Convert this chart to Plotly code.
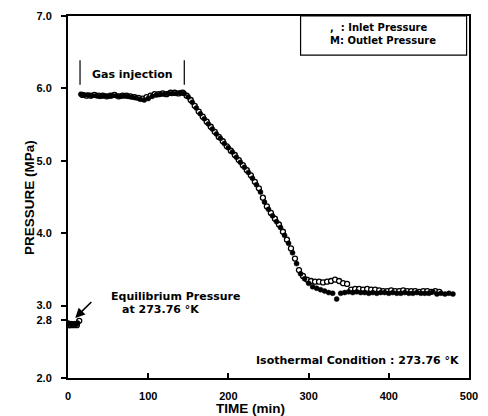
import plotly.graph_objects as go

# Inlet pressure (filled circles): time in min, pressure in MPa
inlet_time = [0, 2, 4, 6, 8, 10, 12,
              16, 20, 25, 30, 35, 40, 45, 50, 55, 60, 65, 70, 75, 80, 85, 90, 95, 100,
              105, 110, 115, 120, 125, 130, 135, 140, 145,
              150, 155, 160, 165, 170, 175, 180, 185, 190, 195, 200, 205, 210, 215, 220,
              225, 230, 235, 240, 245, 250, 255, 260, 265, 270, 275, 280, 285, 290, 295,
              300, 305, 310, 315, 320, 325, 330, 335, 340, 345, 350, 355, 360, 365, 370,
              375, 380, 385, 390, 395, 400, 405, 410, 415, 420, 425, 430, 435, 440, 445,
              450, 455, 460, 465, 470, 475, 480]
inlet_pressure = [2.76, 2.75, 2.75, 2.74, 2.75, 2.74, 2.76,
                  5.92, 5.91, 5.91, 5.90, 5.90, 5.89, 5.90, 5.89, 5.90, 5.90, 5.89, 5.90, 5.89,
                  5.88, 5.87, 5.85, 5.84, 5.86,
                  5.89, 5.91, 5.92, 5.92, 5.93, 5.93, 5.93, 5.94, 5.93,
                  5.88, 5.81, 5.73, 5.65, 5.58, 5.51, 5.44, 5.37, 5.31, 5.24, 5.18, 5.12,
                  5.05, 4.98, 4.91, 4.84, 4.76, 4.67, 4.57, 4.43, 4.33, 4.24, 4.16, 4.08,
                  3.97, 3.86, 3.73, 3.58, 3.44, 3.37, 3.31, 3.26, 3.24, 3.22, 3.20, 3.18,
                  3.17, 3.09, 3.17, 3.18, 3.19, 3.18, 3.19, 3.18, 3.18, 3.17, 3.18, 3.17,
                  3.18, 3.18, 3.17, 3.18, 3.17, 3.17, 3.18, 3.17, 3.17, 3.18, 3.17, 3.17,
                  3.17, 3.19, 3.16, 3.17, 3.16, 3.17, 3.16]

# Outlet pressure (open circles)
outlet_time = [1, 3, 5, 7, 9, 11, 14,
               18, 23, 28, 33, 38, 43, 48, 53, 58, 63, 68, 73, 78, 83, 88, 93, 98,
               103, 108, 113, 118, 123, 128, 133, 138, 143,
               148, 153, 158, 163, 168, 173, 178, 183, 188, 193, 198, 203, 208, 213, 218,
               223, 228, 233, 238, 243, 248, 253, 258, 263, 268, 273, 278, 283, 288, 293,
               298, 303, 308, 313, 318, 323, 328, 333, 338, 343, 348,
               353, 358, 363, 368, 373, 378, 383, 388, 393, 398, 403, 408, 413, 418,
               423, 428, 433, 438, 443, 448, 453, 458, 463]
outlet_pressure = [2.73, 2.73, 2.74, 2.73, 2.74, 2.73, 2.79,
                   5.91, 5.90, 5.90, 5.91, 5.90, 5.90, 5.89, 5.90, 5.91, 5.89, 5.90, 5.90,
                   5.89, 5.88, 5.87, 5.86, 5.88,
                   5.90, 5.92, 5.92, 5.93, 5.92, 5.94, 5.94, 5.93, 5.94,
                   5.90, 5.84, 5.76, 5.68, 5.61, 5.54, 5.47, 5.40, 5.33, 5.27, 5.20, 5.14,
                   5.08, 5.01, 4.94, 4.87, 4.80, 4.71, 4.62, 4.49, 4.37, 4.28, 4.20, 4.12,
                   4.02, 3.91, 3.79, 3.65, 3.49, 3.41, 3.36, 3.34, 3.33, 3.33, 3.32, 3.33,
                   3.34, 3.36, 3.34, 3.31, 3.30,
                   3.22, 3.23, 3.23, 3.22, 3.23, 3.22, 3.22, 3.21, 3.20, 3.20, 3.21, 3.20,
                   3.20, 3.21, 3.20, 3.20, 3.20, 3.19, 3.20, 3.20, 3.19, 3.20, 3.19]

y_ticks = [2.0, 2.8, 3.0, 4.0, 5.0, 6.0, 7.0]
x_ticks = [0, 100, 200, 300, 400, 500]

FONT = "Liberation Sans, Arial, sans-serif"
WIDE = "DejaVu Sans, Verdana, sans-serif"
note_font = dict(size=11, family=WIDE, weight="bold", color="black")

fig = go.Figure()
fig.add_trace(go.Scatter(
    x=outlet_time, y=outlet_pressure, mode="markers", name="Outlet Pressure",
    marker=dict(symbol="circle", size=5, color="white",
                line=dict(color="black", width=1.3)),
))
fig.add_trace(go.Scatter(
    x=inlet_time, y=inlet_pressure, mode="markers", name="Inlet Pressure",
    marker=dict(symbol="circle", size=5, color="black",
                line=dict(color="black", width=0.5)),
))

# gas injection bracket
for t in (15, 145):
    fig.add_shape(type="line", x0=t, x1=t, y0=6.05, y1=6.39,
                  line=dict(color="black", width=1.2))
fig.add_annotation(x=80, y=6.19, text="Gas injection", showarrow=False, font=note_font)

# legend box with its two text lines
fig.add_shape(type="rect", x0=290, x1=497, y0=6.46, y1=7.0,
              line=dict(color="black", width=1.2), fillcolor="white")
fig.add_annotation(x=324, y=6.75, xanchor="left", yanchor="middle", align="left",
                   text=",  : Inlet Pressure<br>M: Outlet Pressure",
                   showarrow=False,
                   font=dict(size=10, family=WIDE, weight="bold", color="black"))

# equilibrium annotation
fig.add_annotation(x=134, y=3.13, text="Equilibrium Pressure", showarrow=False,
                   font=note_font)
fig.add_annotation(x=115, y=2.94, text="at 273.76 °K", showarrow=False, font=note_font)
fig.add_annotation(x=9, y=2.83, ax=31, ay=3.07, axref="x", ayref="y",
                   text="", showarrow=True, arrowhead=2, arrowsize=1.2,
                   arrowwidth=1.6, arrowcolor="black")

fig.add_annotation(x=490, y=2.245, xanchor="right", text="Isothermal Condition : 273.76 °K",
                   showarrow=False, font=note_font)

# axis titles
fig.add_annotation(x=-0.121, y=0.5, xref="paper", yref="paper", text="PRESSURE (MPa)",
                   textangle=-90, showarrow=False,
                   font=dict(size=13.5, family=FONT, weight="bold"))
fig.add_annotation(x=0.454, y=-0.083, xref="paper", yref="paper", text="TIME (min)",
                   showarrow=False, yanchor="middle",
                   font=dict(size=13.5, family=FONT, weight="bold"))

fig.update_layout(
    width=488, height=416,
    margin=dict(l=68, r=17, t=10, b=38),
    paper_bgcolor="white", plot_bgcolor="white",
    showlegend=False,
    font=dict(family=FONT, size=11, color="black", weight="bold"),
    xaxis=dict(range=[0, 500], tickvals=x_ticks, ticktext=[str(v) for v in x_ticks],
               ticks="inside", ticklen=5, tickwidth=1.5, tickcolor="black",
               ticklabelstandoff=7,
               showline=True, linewidth=2, linecolor="black", mirror=True,
               showgrid=False, zeroline=False, fixedrange=True),
    yaxis=dict(range=[2, 7], tickvals=y_ticks, ticktext=[f"{v:.1f}" for v in y_ticks],
               ticks="outside", ticklen=5, tickwidth=1.5, tickcolor="black",
               ticklabelstandoff=7,
               showline=True, linewidth=2, linecolor="black", mirror=True,
               showgrid=False, zeroline=False, fixedrange=True),
)

fig.write_html("out.html")
